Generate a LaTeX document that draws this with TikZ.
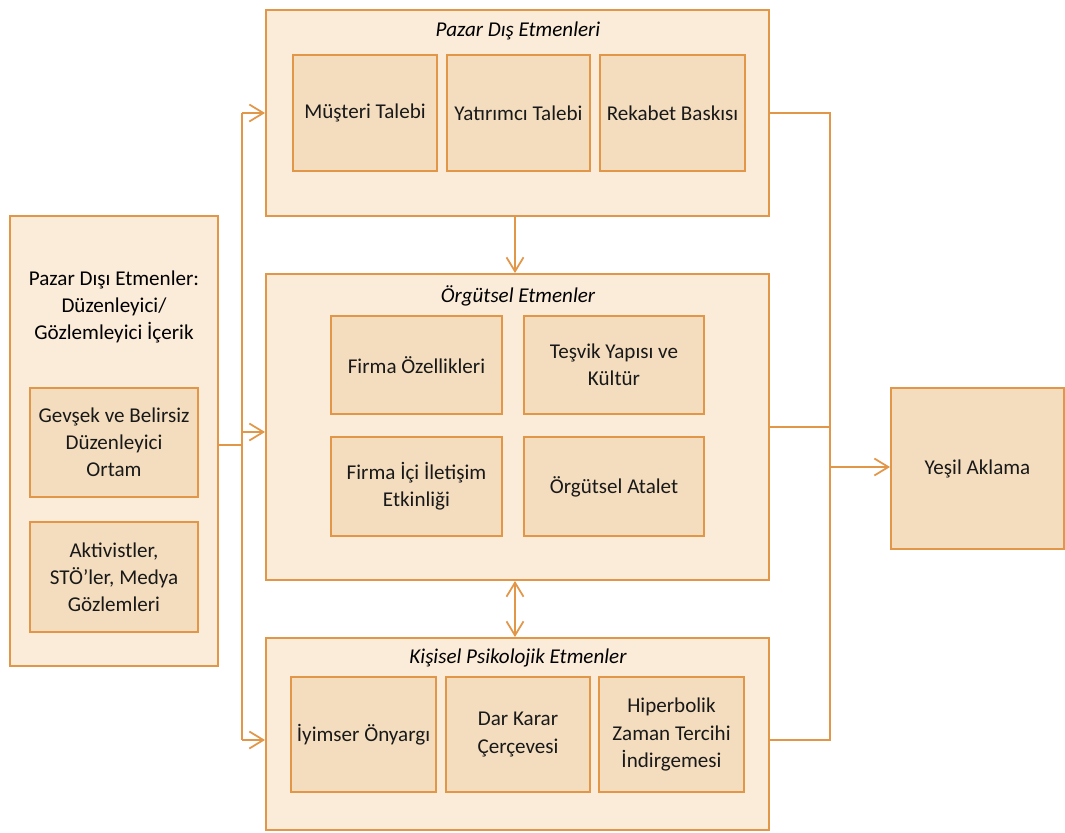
\documentclass[tikz,border=0pt]{standalone}
\usepackage{fontspec}
\setmainfont{Carlito}
\usetikzlibrary{fit,arrows.meta}
\definecolor{kenar}{RGB}{226,150,72}
\definecolor{dis}{RGB}{251,235,217}
\definecolor{ic}{RGB}{244,221,190}
\begin{document}
\begin{tikzpicture}[x=0.02cm, y=-0.02cm,
    font=\fontsize{12}{15.4}\selectfont,
    outerbox/.style={draw=kenar, fill=dis, line width=1.1pt, inner sep=0pt},
    innerbox/.style={draw=kenar, fill=ic, line width=1.1pt, inner sep=0pt},
    boxtext/.style={label={[align=center, text=black!90]center:#1}},
    grouptitle/.style={font=\fontsize{12}{15.4}\selectfont\itshape},
    link/.style={draw=kenar, line width=1.1pt},
    tip/.style={-{Straight Barb[length=0.28cm, width=0.34cm, line width=1pt]}}]
  \useasboundingbox (0,0) rectangle (1065,832);

  % sol blok
  \node[outerbox, fit={(10,216) (218,666)}] (pde) {};
  \node[align=center] (pdetitle) at (114,307) {Pazar Dışı Etmenler:\\Düzenleyici/\\Gözlemleyici İçerik};
  \node[innerbox, fit={(30,388) (198,497)}, boxtext={Gevşek ve Belirsiz\\Düzenleyici\\Ortam}] (gevsek) {};
  \node[innerbox, fit={(30,522) (198,632)}, boxtext={Aktivistler,\\STÖ’ler, Medya\\Gözlemleri}] (aktiv) {};

  % ust grup
  \node[outerbox, fit={(266,10) (769,216)}] (pazar) {};
  \node[grouptitle] (pazartitle) at (518,31) {Pazar Dış Etmenleri};
  \node[innerbox, fit={(293,55) (437,171)}, boxtext={Müşteri Talebi}] (musteri) {};
  \node[innerbox, fit={(447,55) (590,171)}, boxtext={Yatırımcı Talebi}] (yatirimci) {};
  \node[innerbox, fit={(600,55) (745,171)}, boxtext={Rekabet Baskısı}] (rekabet) {};

  % orta grup
  \node[outerbox, fit={(266,274) (769,580)}] (orgut) {};
  \node[grouptitle] (orguttitle) at (518,296) {Örgütsel Etmenler};
  \node[innerbox, fit={(331,316) (502,414)}, boxtext={Firma Özellikleri}] (firma) {};
  \node[innerbox, fit={(524,316) (704,414)}, boxtext={Teşvik Yapısı ve\\Kültür}] (tesvik) {};
  \node[innerbox, fit={(331,437) (502,536)}, boxtext={Firma İçi İletişim\\Etkinliği}] (iletisim) {};
  \node[innerbox, fit={(524,437) (704,536)}, boxtext={Örgütsel Atalet}] (atalet) {};

  % alt grup
  \node[outerbox, fit={(266,638) (769,830)}] (kisisel) {};
  \node[grouptitle] (kisiseltitle) at (518,658) {Kişisel Psikolojik Etmenler};
  \node[innerbox, fit={(291,677) (436,792)}, boxtext={İyimser Önyargı}] (iyimser) {};
  \node[innerbox, fit={(446,677) (590,792)}, boxtext={Dar Karar\\Çerçevesi}] (dar) {};
  \node[innerbox, fit={(599,677) (744,792)}, boxtext={Hiperbolik\\Zaman Tercihi\\İndirgemesi}] (hiper) {};

  % sonuc
  \node[innerbox, fit={(891,388) (1064,549)}, boxtext={Yeşil Aklama}] (yesil) {};

  % sol baglantilar
  \coordinate (sol) at (242,445);
  \draw[link] (pde.east |- sol) -- (sol);
  \draw[link, tip] (242,113) -- (pazar.west |- 0,113);
  \draw[link] (242,113) -- (242,740);
  \draw[link, tip] (242,432) -- (orgut.west |- 0,432);
  \draw[link, tip] (242,740) -- (kisisel.west |- 0,740);

  % dikey oklar
  \draw[link, tip] (pazar.south -| 515,0) -- (orgut.north -| 515,0);
  \draw[link, {Straight Barb[length=0.28cm, width=0.34cm, line width=1pt]}-{Straight Barb[length=0.28cm, width=0.34cm, line width=1pt]}] (orgut.south -| 515,0) -- (kisisel.north -| 515,0);

  % sag baglantilar
  \draw[link] (pazar.east |- 0,113) -- (830,113) -- (830,740) -- (kisisel.east |- 0,740);
  \draw[link] (orgut.east |- 0,427) -- (830,427);
  \draw[link, tip] (830,467) -- (yesil.west |- 0,467);
\end{tikzpicture}
\end{document}
